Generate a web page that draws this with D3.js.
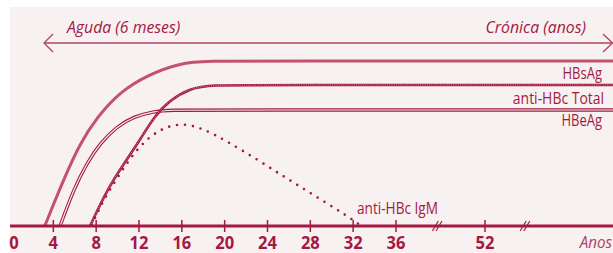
<!DOCTYPE html>
<html>
<head>
<meta charset="utf-8">
<script src="https://cdn.jsdelivr.net/npm/d3@7"></script>
<style>
  body { margin: 0; background: #fff; }
  svg { display: block; }
</style>
</head>
<body>
<div id="chart"></div>
<script>
// values (x in semanas / anos, y in relative level 0-100)
var ticks = [4, 8, 12, 16, 20, 24, 28, 32, 36, 52];
var axisBreaks = [43.4, 54.5];

var hbsAgX = [3.2, 4.9, 6.5, 8.1, 10.2, 12.8, 15.8, 18.4, 24, 60];
var hbsAgY = [0, 22.5, 41.5, 54.5, 67, 75.5, 81.5, 82.5, 82.5, 82.5];

var totalX = [7.43, 9.0, 10.6, 12.1, 13.4, 14.9, 16.8, 18.6, 24, 60];
var totalY = [0, 18, 31.3, 43, 54.7, 63, 68.8, 70.5, 70.5, 70.5];

var hbeAgX = [4.63, 5.87, 7.12, 8.36, 9.92, 11.5, 13.4, 14.6, 20, 60];
var hbeAgY = [0, 18, 31.3, 41.3, 49.7, 54.7, 57.2, 58, 58, 58];

var igmX = [7.59, 8.67, 10.23, 11.94, 13.97, 16.09, 18.02, 20.11, 23.01, 25.65, 28.3, 30.95, 32.66];
var igmY = [0.5, 13, 26.3, 39.7, 48.8, 51.7, 48.5, 42.8, 33.3, 24.3, 15.5, 6.7, 0.5];

var width = 613, height = 253;
var dark = "#a3193f", pink = "#c4526f", bg = "#f8f1f2";

var svg = d3.select("#chart").append("svg")
    .attr("width", width)
    .attr("height", height);

svg.append("rect")
    .attr("x", 10).attr("y", 7)
    .attr("width", width - 10).attr("height", height - 7)
    .attr("fill", bg);

// piecewise x scale: weeks up to 36, then compressed years
var x = d3.scaleLinear()
    .domain([0, 36, 52, 60])
    .range([10.5, 396, 485, 613]);

var y = d3.scaleLinear()
    .domain([0, 100])
    .range([226, 26]);

var line = d3.line()
    .x(function(d) { return x(d[0]); })
    .y(function(d) { return y(d[1]); })
    .curve(d3.curveBasis);

function pts(xs, ys) { return xs.map(function(v, i) { return [v, ys[i]]; }); }

// HBsAg - thick solid pink
svg.append("path")
    .attr("d", line(pts(hbsAgX, hbsAgY)))
    .attr("fill", "none")
    .attr("stroke", pink)
    .attr("stroke-width", 3);

// HBeAg - double line
svg.append("path")
    .attr("d", line(pts(hbeAgX, hbeAgY)))
    .attr("fill", "none")
    .attr("stroke", dark)
    .attr("stroke-width", 3.4);
svg.append("path")
    .attr("d", line(pts(hbeAgX, hbeAgY)))
    .attr("fill", "none")
    .attr("stroke", bg)
    .attr("stroke-width", 1.2);

// anti-HBc Total - hatched line
svg.append("path")
    .attr("d", line(pts(totalX, totalY)))
    .attr("fill", "none")
    .attr("stroke", dark)
    .attr("stroke-width", 2.6);
svg.append("path")
    .attr("d", line(pts(totalX, totalY)))
    .attr("fill", "none")
    .attr("stroke", "#d98a9c")
    .attr("stroke-width", 1)
    .attr("stroke-dasharray", "1,1.2");

// anti-HBc IgM - dotted
svg.append("path")
    .attr("d", line(pts(igmX, igmY)))
    .attr("fill", "none")
    .attr("stroke", dark)
    .attr("stroke-width", 2.6)
    .attr("stroke-linecap", "round")
    .attr("stroke-dasharray", "0,8");

// axis
svg.append("line")
    .attr("x1", 10).attr("x2", width)
    .attr("y1", y(0)).attr("y2", y(0))
    .attr("stroke", dark)
    .attr("stroke-width", 3);

svg.selectAll(".tick")
    .data(ticks)
    .enter()
    .append("line")
    .attr("class", "tick")
    .attr("x1", function(d) { return x(d); })
    .attr("x2", function(d) { return x(d); })
    .attr("y1", y(0) - 6)
    .attr("y2", y(0) + 6)
    .attr("stroke", dark)
    .attr("stroke-width", 1.5);

axisBreaks.forEach(function(b) {
    [-1.8, 1.8].forEach(function(o) {
        svg.append("line")
            .attr("x1", x(b) + o - 3).attr("y1", y(0) + 5)
            .attr("x2", x(b) + o + 3).attr("y2", y(0) - 5)
            .attr("stroke", dark)
            .attr("stroke-width", 1.2);
    });
});

svg.selectAll(".tlabel")
    .data([0].concat(ticks))
    .enter()
    .append("g")
    .attr("class", "tlabel")
    .attr("transform", function(d) {
        return "translate(" + (d === 0 ? 14 : x(d)) + "," + 248.5 + ") scale(0.92,1)";
    })
    .append("text")
    .attr("text-anchor", "middle")
    .attr("font-family", "Open Sans")
    .attr("font-weight", "bold")
    .attr("font-size", 18)
    .attr("fill", dark)
    .text(function(d) { return d; });

// header arrow
var hy = 43;
svg.append("line")
    .attr("x1", 44).attr("x2", 612.5)
    .attr("y1", hy).attr("y2", hy)
    .attr("stroke", "#b04466")
    .attr("stroke-width", 1.3);
svg.append("path")
    .attr("d", "M53," + (hy - 9) + "L44," + hy + "L53," + (hy + 9))
    .attr("fill", "none").attr("stroke", "#b04466").attr("stroke-width", 1.3);
svg.append("path")
    .attr("d", "M603," + (hy - 9) + "L612.5," + hy + "L603," + (hy + 9))
    .attr("fill", "none").attr("stroke", "#b04466").attr("stroke-width", 1.3);

function label(txt, px, py, anchor, size, italic, color, sx) {
    svg.append("g")
        .attr("transform", "translate(" + px + "," + py + ") scale(" + sx + ",1)")
        .append("text")
        .attr("text-anchor", anchor)
        .attr("font-family", "Open Sans")
        .attr("font-size", size)
        .attr("font-style", italic ? "italic" : "normal")
        .attr("fill", color)
        .text(txt);
}

label("Aguda (6 meses)", 67, 32.5, "start", 17, true, dark, 0.93);
label("Crónica (anos)", 586, 32.5, "end", 17, true, dark, 0.93);
label("HBsAg", 602, 78.5, "end", 15.5, false, dark, 0.84);
label("anti-HBc Total", 604, 103.5, "end", 15.5, false, dark, 0.9);
label("HBeAg", 602, 125.5, "end", 15.5, false, dark, 0.84);
label("anti-HBc IgM", 357, 213.5, "start", 15.5, false, dark, 0.88);
label("Anos", 612, 248, "end", 16, true, "#a84060", 0.95);
</script>
</body>
</html>
